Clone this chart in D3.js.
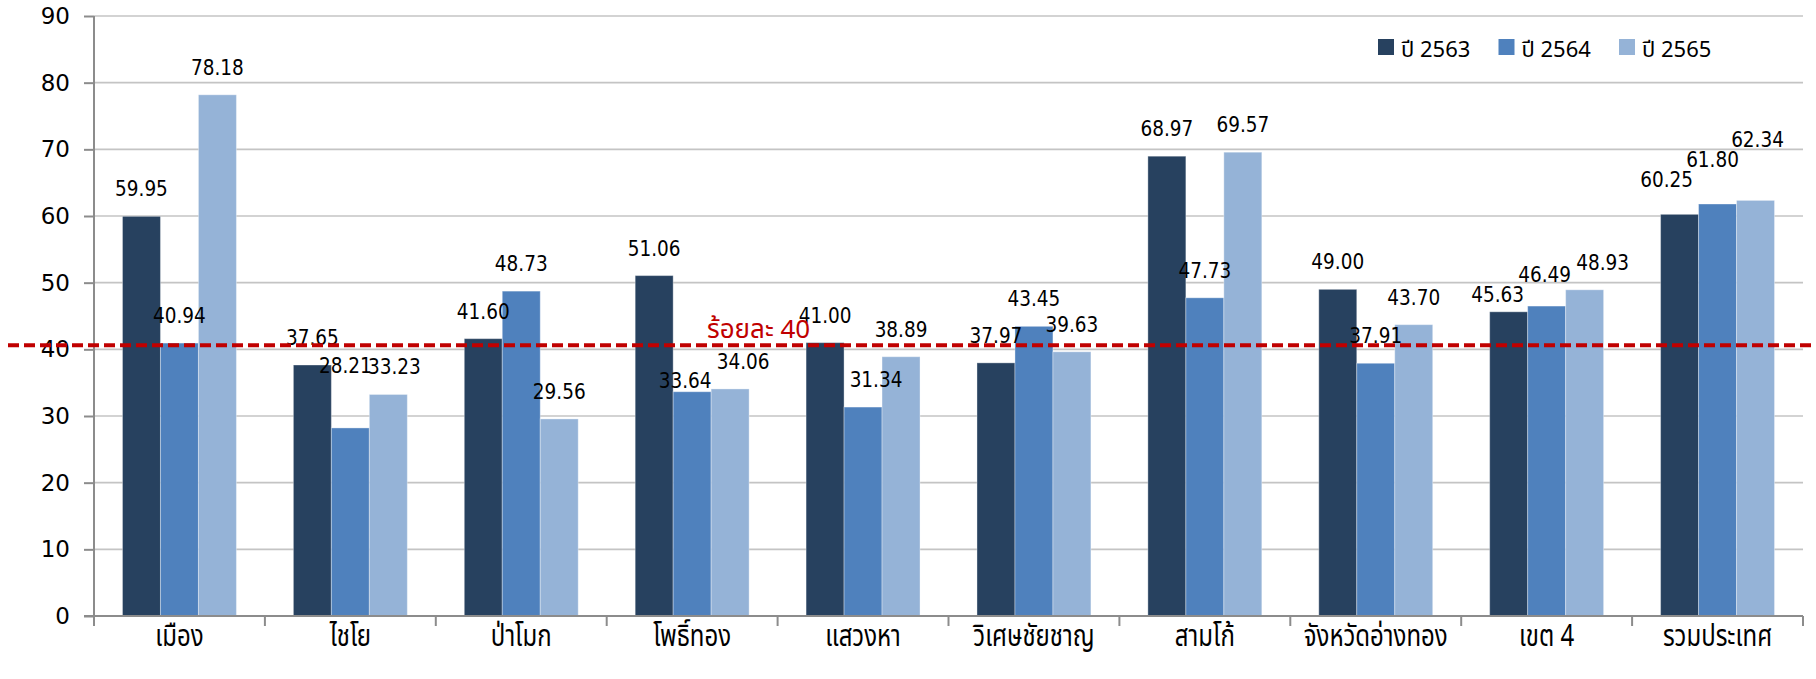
<!DOCTYPE html>
<html>
<head>
<meta charset="utf-8">
<script src="https://cdn.jsdelivr.net/npm/d3@7"></script>
<style>
  html, body { margin: 0; padding: 0; background: #ffffff; }
  svg { display: block; }
</style>
</head>
<body>
<svg id="chart" width="1816" height="679"></svg>
<script>
// ---------------- data ----------------
const categories = ["เมือง", "ไชโย", "ป่าโมก", "โพธิ์ทอง", "แสวงหา", "วิเศษชัยชาญ", "สามโก้", "จังหวัดอ่างทอง", "เขต 4", "รวมประเทศ"];
const seriesNames = ["ปี 2563", "ปี 2564", "ปี 2565"];
const values2563 = [59.95, 37.65, 41.60, 51.06, 41.00, 37.97, 68.97, 49.00, 45.63, 60.25];
const values2564 = [40.94, 28.21, 48.73, 33.64, 31.34, 43.45, 47.73, 37.91, 46.49, 61.80];
const values2565 = [78.18, 33.23, 29.56, 34.06, 38.89, 39.63, 69.57, 43.70, 48.93, 62.34];
const yTicks = [0, 10, 20, 30, 40, 50, 60, 70, 80, 90];
const refLineValue = 40.6;          // dashed target line as drawn
const refLineLabel = "ร้อยละ 40";

// ---------------- layout / style (not data) ----------------
const colors = ["#27415F", "#4F81BD", "#95B3D7"];
const plot = { left: 94, right: 1803, top: 16, bottom: 616 };
// manual label displacements seen in the reference [series-category] -> [dx, dy]
const labelNudge = {
  "1-1": [-5, -35], "2-1": [6, 0], "1-3": [-7, 16], "2-3": [13, 0], "1-4": [13, 0],
  "0-8": [-11, 10], "1-8": [-2, -4], "2-8": [18, 0],
  "0-9": [-13, -7], "1-9": [-5, -17], "2-9": [2, -33]
};
const thaiFont = "'Noto Sans Thai', 'Noto Sans Thai Looped', Tahoma, 'Noto Sans', sans-serif";

const seriesValues = [values2563, values2564, values2565];
const svg = d3.select("#chart");

const x0 = d3.scaleBand().domain(categories).range([plot.left, plot.right]).padding(0);
const x1 = d3.scaleBand().domain(d3.range(seriesNames.length)).range([0, x0.bandwidth()])
  .paddingInner(0).paddingOuter(0.75);
const y = d3.scaleLinear().domain([0, 90]).range([plot.bottom, plot.top]);

// gridlines
svg.append("g").selectAll("line").data(yTicks.filter(d => d > 0)).join("line")
  .attr("x1", plot.left).attr("x2", plot.right)
  .attr("y1", d => y(d)).attr("y2", d => y(d))
  .attr("stroke", "#C4C4C4").attr("stroke-width", 1.6);

// y axis
const yAxis = d3.axisLeft(y).tickValues(yTicks).tickSize(10).tickPadding(14).tickFormat(d3.format("d"));
const gy = svg.append("g").attr("transform", `translate(${plot.left},0)`).call(yAxis);
gy.select(".domain").attr("stroke", "#8C8C8C").attr("stroke-width", 2)
  .attr("d", `M0,${plot.top}V${plot.bottom + 10}`);
gy.selectAll(".tick line").attr("stroke", "#8C8C8C").attr("stroke-width", 2);
gy.selectAll(".tick text").attr("fill", "#000").style("font-family", "'DejaVu Sans', Verdana, sans-serif")
  .style("font-size", "23px");

// bars
const groups = svg.append("g").selectAll("g").data(categories).join("g")
  .attr("transform", d => `translate(${x0(d)},0)`);
groups.selectAll("rect").data((c, ci) => seriesValues.map((vals, si) => ({ si, ci, v: vals[ci] })))
  .join("rect")
  .attr("x", d => x1(d.si)).attr("width", x1.bandwidth())
  .attr("y", d => y(d.v)).attr("height", d => y(0) - y(d.v))
  .attr("fill", d => colors[d.si])
  .attr("stroke", "rgba(255,255,255,0.35)").attr("stroke-width", 1);

// x axis
const xAxis = d3.axisBottom(x0).tickSize(0).tickPadding(0);
const gx = svg.append("g").attr("transform", `translate(0,${plot.bottom})`).call(xAxis);
gx.select(".domain").attr("stroke", "#8C8C8C").attr("stroke-width", 2)
  .attr("d", `M${plot.left - 10},0H${plot.right}`);
gx.selectAll(".tick text").attr("y", 30).attr("dy", null).attr("fill", "#000")
  .attr("transform", "scale(0.8,1)")
  .style("font-family", thaiFont)
  .style("font-size", "30px");
// category separator ticks
const bounds = categories.map(c => x0(c)).concat([plot.right]);
gx.append("g").selectAll("line").data(bounds).join("line")
  .attr("x1", d => d).attr("x2", d => d).attr("y1", 0).attr("y2", 10)
  .attr("stroke", "#8C8C8C").attr("stroke-width", 2);

// value labels
const labels = svg.append("g");
seriesValues.forEach((vals, si) => {
  vals.forEach((v, ci) => {
    const n = labelNudge[si + "-" + ci] || [0, 0];
    labels.append("text")
      .attr("x", x0(categories[ci]) + x1(si) + x1.bandwidth() / 2 + n[0])
      .attr("y", y(v) - 20 + n[1])
      .attr("text-anchor", "middle")
      .style("font-family", "'DejaVu Sans Condensed', 'DejaVu Sans', sans-serif")
      .style("font-size", "20.5px")
      .attr("fill", "#000")
      .text(d3.format(".2f")(v));
  });
});

// reference dashed line
svg.append("line")
  .attr("x1", 8).attr("x2", 1813)
  .attr("y1", y(refLineValue)).attr("y2", y(refLineValue))
  .attr("stroke", "#C00000").attr("stroke-width", 4)
  .attr("stroke-dasharray", "11,5");
svg.append("text")
  .attr("x", 707).attr("y", y(refLineValue) - 7)
  .attr("fill", "#C00000")
  .style("font-family", thaiFont)
  .style("font-size", "26px")
  .text(refLineLabel);

// legend
const legend = svg.append("g").attr("transform", "translate(1378,39)");
const li = legend.selectAll("g").data(seriesNames).join("g")
  .attr("transform", (d, i) => `translate(${i * 120.5},0)`);
li.append("rect").attr("width", 16).attr("height", 16).attr("fill", (d, i) => colors[i]);
li.append("text").attr("x", 23).attr("y", 18)
  .style("font-family", thaiFont)
  .style("font-size", "22px").attr("fill", "#000")
  .text(d => d);
</script>
</body>
</html>
